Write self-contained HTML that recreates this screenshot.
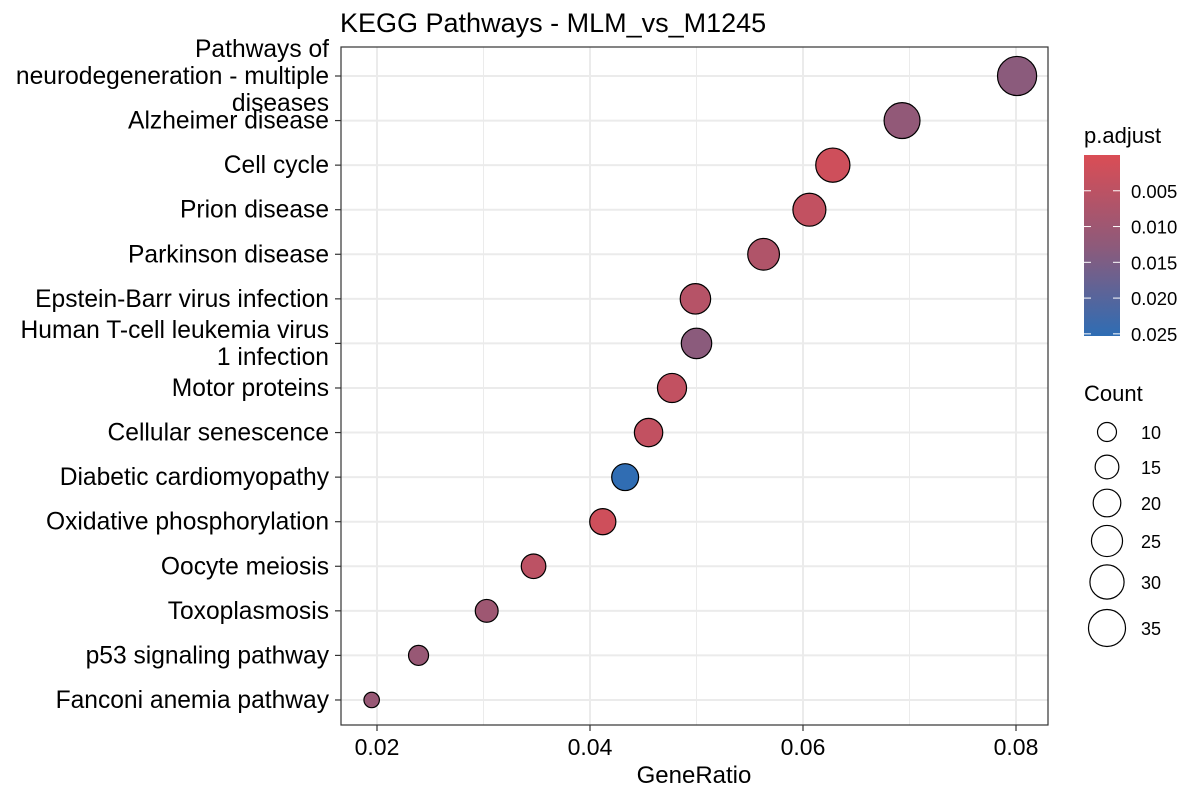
<!DOCTYPE html>
<html><head><meta charset="utf-8"><style>
body{margin:0;background:#fff;font-family:"Liberation Sans",Arial,sans-serif}
</style></head><body>
<svg id="chart" width="1200" height="800" xmlns="http://www.w3.org/2000/svg">
<defs><linearGradient id="grad" x1="0" y1="0" x2="0" y2="1">
<stop offset="0" stop-color="#DA4D55"/><stop offset="0.5" stop-color="#8E5A7A"/><stop offset="1" stop-color="#2E6DB4"/></linearGradient></defs>
<text x="340" y="32" font-size="27" fill="#000">KEGG Pathways - MLM_vs_M1245</text>
<g id="grid"></g>
<g id="points"></g>
<rect x="341" y="47" width="707" height="678" fill="none" stroke="#333" stroke-width="1.2"/>
<g id="yaxis"></g>
<g id="xaxis"></g>
<text x="694" y="783" font-size="24" text-anchor="middle">GeneRatio</text>
<g>
<text x="1084" y="143" font-size="22">p.adjust</text>
<rect x="1084" y="155" width="36" height="181" fill="url(#grad)"/>
<g id="cbticks"></g>
</g>
<g>
<text x="1084" y="401" font-size="22">Count</text>
<g id="sizeleg"></g>
</g>
</svg>
<script>
const categories=["Pathways of neurodegeneration - multiple diseases","Alzheimer disease","Cell cycle","Prion disease","Parkinson disease","Epstein-Barr virus infection","Human T-cell leukemia virus 1 infection","Motor proteins","Cellular senescence","Diabetic cardiomyopathy","Oxidative phosphorylation","Oocyte meiosis","Toxoplasmosis","p53 signaling pathway","Fanconi anemia pathway"];
const labelLines=[["Pathways of","neurodegeneration - multiple","diseases"],["Alzheimer disease"],["Cell cycle"],["Prion disease"],["Parkinson disease"],["Epstein-Barr virus infection"],["Human T-cell leukemia virus","1 infection"],["Motor proteins"],["Cellular senescence"],["Diabetic cardiomyopathy"],["Oxidative phosphorylation"],["Oocyte meiosis"],["Toxoplasmosis"],["p53 signaling pathway"],["Fanconi anemia pathway"]];
const geneRatio=[0.0801,0.0693,0.0628,0.0606,0.0563,0.0499,0.0500,0.0477,0.0455,0.0433,0.0412,0.0347,0.0303,0.0239,0.0195];
const counts=[39,33,30,28,26,24,24,22,21,19,18,16,14,11,7];
const pAdjust=[0.013,0.012,0.002,0.004,0.007,0.006,0.013,0.004,0.004,0.025,0.002,0.005,0.010,0.011,0.011];
const xTicks=[0.02,0.04,0.06,0.08];
const xMinor=[0.03,0.05,0.07];
const cbTicks=[0.005,0.010,0.015,0.020,0.025];
const sizeBreaks=[10,15,20,25,30,35];
const NS="http://www.w3.org/2000/svg";
const X=v=>377+(v-0.02)*10650;
const Y=i=>76+i*44.57;
const R=c=>Math.sqrt(Math.max(10.1*c-11,20));
const pMin=0,pMax=0.0253;
const CB=v=>155+(v-pMin)/(pMax-pMin)*181;
function col(p){const t=Math.min(1,Math.max(0,(p-pMin)/(pMax-pMin)));
 const a=[218,77,85],m=[142,90,122],b=[46,109,180];let c;
 if(t<0.5){const s=t/0.5;c=a.map((v,k)=>v+(m[k]-v)*s);}else{const s=(t-0.5)/0.5;c=m.map((v,k)=>v+(b[k]-v)*s);}
 return `rgb(${c.map(Math.round).join(',')})`;}
function mk(t,at,parent){const e=document.createElementNS(NS,t);for(const k in at)e.setAttribute(k,at[k]);document.getElementById(parent).appendChild(e);return e;}
xMinor.forEach(v=>{const l=mk('line',{x1:X(v),x2:X(v),y1:47,y2:725,stroke:'#EBEBEB','stroke-width':1},'grid');

});
xTicks.forEach(v=>{const l=mk('line',{x1:X(v),x2:X(v),y1:47,y2:725,stroke:'#EBEBEB','stroke-width':2},'grid');


const t=mk('line',{x1:X(v),x2:X(v),y1:725,y2:731,stroke:'#333','stroke-width':1.2},'xaxis');


const tx=mk('text',{x:X(v),y:755,'font-size':23,'text-anchor':'middle',fill:'#000'},'xaxis');tx.textContent=v.toFixed(2);

});
categories.forEach((c,i)=>{const y=Y(i);
const l=mk('line',{x1:341,x2:1048,y1:y,y2:y,stroke:'#EBEBEB','stroke-width':2},'grid');


const t=mk('line',{x1:335,x2:341,y1:y,y2:y,stroke:'#333','stroke-width':1.2},'yaxis');


const lines=labelLines[i];const n=lines.length;
lines.forEach((s,j)=>{const tx=mk('text',{x:329,y:y+8+(j-(n-1)/2)*27,'font-size':24.6,'text-anchor':'end',fill:'#000'},'yaxis');tx.textContent=s;

});
const p=mk('circle',{cx:X(geneRatio[i]),cy:y,r:R(counts[i]),fill:col(pAdjust[i]),stroke:'#000','stroke-width':1.2},'points');

});
cbTicks.forEach(v=>{const y=CB(v);
const a=mk('line',{x1:1084,x2:1091,y1:y,y2:y,stroke:'#fff','stroke-width':1},'cbticks');


const b=mk('line',{x1:1113,x2:1120,y1:y,y2:y,stroke:'#fff','stroke-width':1},'cbticks');


const t=mk('text',{x:1131,y:y+7,'font-size':18.5},'cbticks');t.textContent=v.toFixed(3);

});
const sy=[432,467,503,541,582,628];
sizeBreaks.forEach((c,i)=>{const ci=mk('circle',{cx:1107,cy:sy[i],r:R(c),fill:'none',stroke:'#000','stroke-width':1.2},'sizeleg');


const t=mk('text',{x:1141,y:sy[i]+7,'font-size':18},'sizeleg');t.textContent=c;

});
</script>
</body></html>
